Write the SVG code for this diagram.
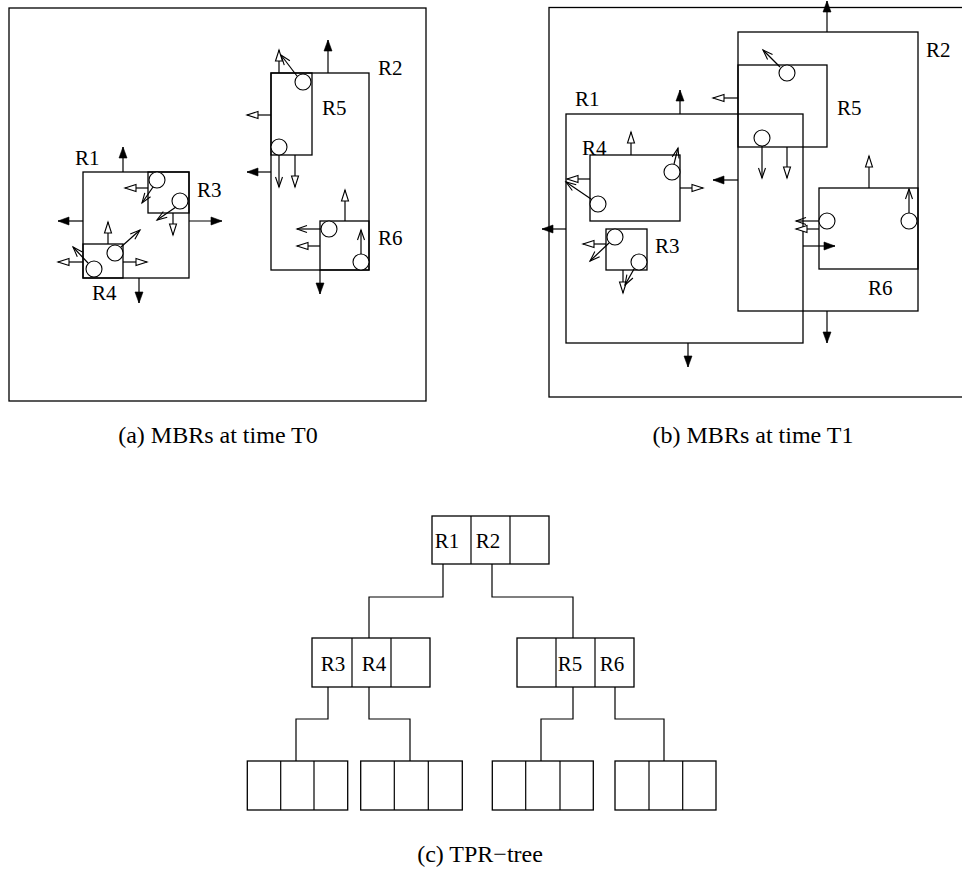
<svg xmlns="http://www.w3.org/2000/svg" width="962" height="882" viewBox="0 0 962 882">
<style>
.box{fill:none;stroke:#000;stroke-width:1.3}
.cell{fill:#fff;stroke:#000;stroke-width:1.3}
.obj{fill:#fff;stroke:#000;stroke-width:1.1}
.c{stroke:#000;stroke-width:1.2;fill:none}
.f{marker-end:url(#mf)}
.h{marker-end:url(#mh)}
.s{marker-end:url(#ms)}
text{font-family:"Liberation Serif","Times New Roman",serif;fill:#000}
.lbl{font-size:21px}
.tl{font-size:21px;text-anchor:middle}
.cap{font-size:24px;text-anchor:middle}
</style>
<defs>
<marker id="mf" markerUnits="userSpaceOnUse" markerWidth="14" markerHeight="10" refX="11" refY="4" orient="auto" overflow="visible">
<path d="M0,0 L11,4 L0,8 z" fill="#000" stroke="#000" stroke-width="0.6"/>
</marker>
<marker id="mh" markerUnits="userSpaceOnUse" markerWidth="14" markerHeight="10" refX="11" refY="3.5" orient="auto" overflow="visible">
<path d="M0,0 L11,3.5 L0,7 z" fill="#fff" stroke="#000" stroke-width="1.1"/>
</marker>
<marker id="ms" markerUnits="userSpaceOnUse" markerWidth="12" markerHeight="10" refX="10" refY="3.5" orient="auto" overflow="visible">
<path d="M0,0 L10,3.5 L0,7" fill="none" stroke="#000" stroke-width="1.1"/>
</marker>
</defs>

<!-- Panel (a) -->
<g id="panelA">
<rect class="box" x="9" y="8" width="417" height="393"/>
</g>
<g id="a-R1"><rect class="box" x="83" y="172" width="106" height="106"/><text class="lbl" x="75" y="165">R1</text></g>
<g id="a-R3"><rect class="box" x="148" y="172" width="41" height="41"/><text class="lbl" x="197" y="197">R3</text>
<circle class="obj" cx="157" cy="180" r="8"/><circle class="obj" cx="180" cy="201" r="8"/></g>
<g id="a-R4"><rect class="box" x="83" y="244" width="40" height="34"/><text class="lbl" x="92" y="300">R4</text>
<circle class="obj" cx="115" cy="253" r="8"/><circle class="obj" cx="94" cy="269" r="8"/></g>
<g id="a-R2"><rect class="box" x="271" y="73" width="98" height="197"/><text class="lbl" x="378" y="75">R2</text></g>
<g id="a-R5"><rect class="box" x="271" y="73" width="41" height="82"/><text class="lbl" x="322" y="115">R5</text>
<circle class="obj" cx="303" cy="82" r="8"/><circle class="obj" cx="279" cy="147" r="8"/></g>
<g id="a-R6"><rect class="box" x="320" y="221" width="49" height="49"/><text class="lbl" x="378" y="245">R6</text>
<circle class="obj" cx="329" cy="229" r="8"/><circle class="obj" cx="361" cy="262" r="8"/></g>

<g id="a-arrows" class="c">
<line class="f" x1="123" y1="172" x2="123" y2="147"/>
<line class="f" x1="83" y1="221" x2="58" y2="221"/>
<line class="f" x1="189" y1="221" x2="222" y2="221"/>
<line class="f" x1="139" y1="278" x2="139" y2="303"/>
<line class="f" x1="328" y1="73" x2="328" y2="40"/>
<line class="f" x1="271" y1="172" x2="247" y2="172"/>
<line class="f" x1="320" y1="270" x2="320" y2="294"/>
<line class="h" x1="148" y1="188" x2="125" y2="188"/>
<line class="h" x1="173" y1="213" x2="173" y2="235"/>
<line class="h" x1="108" y1="244" x2="108" y2="222"/>
<line class="h" x1="123" y1="262" x2="147" y2="262"/>
<line class="h" x1="83" y1="262" x2="58" y2="262"/>
<line class="h" x1="271" y1="115" x2="247" y2="115"/>
<line class="h" x1="279" y1="73" x2="279" y2="50"/>
<line class="h" x1="295" y1="155" x2="295" y2="187"/>
<line class="h" x1="345" y1="221" x2="345" y2="190"/>
<line class="h" x1="320" y1="246" x2="297" y2="246"/>
<line class="s" x1="153" y1="187" x2="142" y2="203"/>
<line class="s" x1="176" y1="207" x2="157" y2="220"/>
<line class="s" x1="121" y1="247" x2="140" y2="230"/>
<line class="s" x1="88" y1="263" x2="73" y2="247"/>
<line class="s" x1="297" y1="76" x2="281" y2="55"/>
<line class="s" x1="279" y1="155" x2="279" y2="187"/>
<line class="s" x1="321" y1="229" x2="297" y2="229"/>
<line class="s" x1="361" y1="254" x2="361" y2="230"/>
</g>

<!-- Panel (b) -->
<g id="panelB">
<rect class="box" x="549" y="7.5" width="430" height="389.5"/>
</g>
<g id="b-R1"><rect class="box" x="566" y="114" width="237" height="229"/><text class="lbl" x="575" y="106">R1</text></g>
<g id="b-R4"><rect class="box" x="590" y="155" width="90" height="66"/><text class="lbl" x="582" y="155">R4</text>
<circle class="obj" cx="672" cy="172" r="8"/><circle class="obj" cx="598" cy="204" r="8"/></g>
<g id="b-R3"><rect class="box" x="606" y="229" width="41" height="41"/><text class="lbl" x="655" y="253">R3</text>
<circle class="obj" cx="615" cy="237" r="8"/><circle class="obj" cx="639" cy="262" r="8"/></g>
<g id="b-R2"><rect class="box" x="738" y="32" width="180" height="279"/><text class="lbl" x="926" y="57">R2</text></g>
<g id="b-R5"><rect class="box" x="738" y="65" width="89" height="82"/><text class="lbl" x="837" y="115">R5</text>
<circle class="obj" cx="787" cy="73" r="8"/><circle class="obj" cx="762" cy="138" r="8"/></g>
<g id="b-R6"><rect class="box" x="819" y="188" width="99" height="81"/><text class="lbl" x="868" y="295">R6</text>
<circle class="obj" cx="827" cy="221" r="8"/><circle class="obj" cx="909" cy="221" r="8"/></g>

<g id="b-arrows" class="c">
<line class="f" x1="680" y1="114" x2="680" y2="90"/>
<line class="f" x1="566" y1="229" x2="542" y2="229"/>
<line class="f" x1="803" y1="246" x2="835" y2="246"/>
<line class="f" x1="688" y1="343" x2="688" y2="367"/>
<line class="f" x1="827" y1="32" x2="827" y2="1"/>
<line class="f" x1="738" y1="180" x2="713" y2="180"/>
<line class="f" x1="827" y1="311" x2="827" y2="343"/>
<line class="h" x1="631" y1="155" x2="631" y2="132"/>
<line class="h" x1="590" y1="179" x2="567" y2="179"/>
<line class="h" x1="680" y1="188" x2="703" y2="188"/>
<line class="h" x1="738" y1="98" x2="713" y2="98"/>
<line class="h" x1="787" y1="147" x2="787" y2="178"/>
<line class="h" x1="869" y1="188" x2="869" y2="156"/>
<line class="h" x1="819" y1="229" x2="796" y2="229"/>
<line class="h" x1="606" y1="244" x2="583" y2="244"/>
<line class="h" x1="623" y1="270" x2="623" y2="293"/>
<line class="s" x1="674" y1="164" x2="678" y2="148"/>
<line class="s" x1="591" y1="199" x2="566" y2="182"/>
<line class="s" x1="780" y1="67" x2="763" y2="50"/>
<line class="s" x1="762" y1="146" x2="762" y2="178"/>
<line class="s" x1="819" y1="221" x2="796" y2="221"/>
<line class="s" x1="909" y1="213" x2="909" y2="189"/>
<line class="s" x1="609" y1="243" x2="590" y2="261"/>
<line class="s" x1="634" y1="269" x2="625" y2="285"/>
</g>

<!-- Tree connectors -->
<g id="tree-connectors" class="c">
<path d="M443,564 V597 H369 V638"/>
<path d="M492,564 V597 H573 V638"/>
<path d="M328,687 V719 H296 V761"/>
<path d="M369,687 V719 H410 V761"/>
<path d="M573,687 V719 H541 V761"/>
<path d="M615,687 V719 H664 V761"/>
</g>

<!-- Tree nodes -->
<g id="root"><rect class="cell" x="432" y="516" width="117" height="48"/>
<line class="c" x1="471" y1="516" x2="471" y2="564"/><line class="c" x1="510" y1="516" x2="510" y2="564"/>
<text class="tl" x="447" y="548">R1</text><text class="tl" x="488" y="548">R2</text></g>
<g id="nodeL"><rect class="cell" x="312" y="638" width="118" height="49"/>
<line class="c" x1="352" y1="638" x2="352" y2="687"/><line class="c" x1="391" y1="638" x2="391" y2="687"/>
<text class="tl" x="333" y="671">R3</text><text class="tl" x="374" y="671">R4</text></g>
<g id="nodeR"><rect class="cell" x="517" y="638" width="117" height="49"/>
<line class="c" x1="556" y1="638" x2="556" y2="687"/><line class="c" x1="595" y1="638" x2="595" y2="687"/>
<text class="tl" x="570" y="671">R5</text><text class="tl" x="612" y="671">R6</text></g>
<g id="leaf1"><rect class="cell" x="247.3" y="761" width="100.4" height="49"/>
<line class="c" x1="280.7" y1="761" x2="280.7" y2="810"/><line class="c" x1="314" y1="761" x2="314" y2="810"/></g>
<g id="leaf2"><rect class="cell" x="360.7" y="761" width="101.6" height="49"/>
<line class="c" x1="394.3" y1="761" x2="394.3" y2="810"/><line class="c" x1="428.3" y1="761" x2="428.3" y2="810"/></g>
<g id="leaf3"><rect class="cell" x="492.3" y="761" width="101" height="49"/>
<line class="c" x1="525.7" y1="761" x2="525.7" y2="810"/><line class="c" x1="560" y1="761" x2="560" y2="810"/></g>
<g id="leaf4"><rect class="cell" x="615" y="761" width="101" height="49"/>
<line class="c" x1="649" y1="761" x2="649" y2="810"/><line class="c" x1="682.7" y1="761" x2="682.7" y2="810"/></g>

<!-- Captions -->
<text class="cap" x="218" y="443">(a) MBRs at time T0</text>
<text class="cap" x="753" y="443">(b) MBRs at time T1</text>
<text class="cap" x="480" y="862">(c) TPR−tree</text>
</svg>
